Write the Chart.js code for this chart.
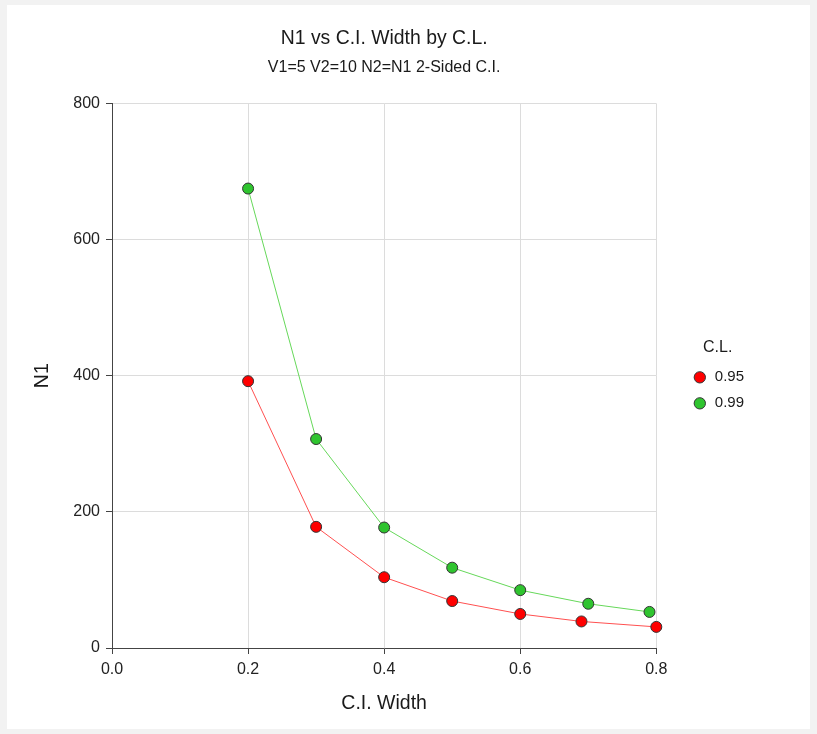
<!DOCTYPE html>
<html>
<head>
<meta charset="utf-8">
<script src="https://cdn.jsdelivr.net/npm/chart.js@4"></script>
<style>
  html, body { margin: 0; padding: 0; background: #f2f2f2; }
  #panel { position: absolute; left: 7px; top: 5px; width: 803px; height: 724px; background: #fff; }
</style>
</head>
<body>
<div id="panel"><canvas id="chart" width="803" height="724"></canvas></div>
<script>
// values
const clLabels = ["0.95", "0.99"];
const widths95 = [0.2, 0.3, 0.4, 0.5, 0.6, 0.69, 0.8];
const n95 = [392, 178, 104, 69, 50, 39, 31];
const widths99 = [0.2, 0.3, 0.4, 0.5, 0.6, 0.7, 0.79];
const n99 = [675, 307, 177, 118, 85, 65, 53];
const xTicks = [0, 0.2, 0.4, 0.6, 0.8];
const yTicks = [0, 200, 400, 600, 800];

const FONT = "'Liberation Sans', Arial, sans-serif";

function toPoints(xs, ys) {
  return xs.map((x, i) => ({ x: x, y: ys[i] }));
}

const ctx = document.getElementById("chart");

new Chart(ctx, {
  type: "scatter",
  data: {
    datasets: [
      {
        label: clLabels[0],
        data: toPoints(widths95, n95),
        showLine: true,
        clip: false,
        borderColor: "#ff5050",
        backgroundColor: "#ff0000",
        borderWidth: 1,
        pointRadius: 5.5,
        pointHoverRadius: 5.5,
        pointBackgroundColor: "#ff0000",
        pointBorderColor: "#333",
        pointBorderWidth: 1,
      },
      {
        label: clLabels[1],
        data: toPoints(widths99, n99),
        showLine: true,
        clip: false,
        borderColor: "#66d85a",
        backgroundColor: "#2fc42f",
        borderWidth: 1,
        pointRadius: 5.5,
        pointHoverRadius: 5.5,
        pointBackgroundColor: "#2fc42f",
        pointBorderColor: "#333",
        pointBorderWidth: 1,
      },
    ],
  },
  options: {
    responsive: false,
    animation: false,
    layout: { padding: { left: 20, right: 56, top: 10, bottom: 10 } },
    plugins: {
      tooltip: { enabled: false },
      title: {
        display: true,
        text: "N1 vs C.I. Width by C.L.",
        fullSize: false,
        color: "#1a1a1a",
        font: { family: FONT, size: 19.4, weight: "normal" },
        padding: { top: 12, bottom: 0 },
      },
      subtitle: {
        display: true,
        text: "V1=5 V2=10 N2=N1 2-Sided C.I.",
        fullSize: false,
        color: "#1a1a1a",
        font: { family: FONT, size: 16, weight: "normal" },
        padding: { top: 8, bottom: 26 },
      },
      legend: {
        position: "right",
        fullSize: false,
        title: {
          display: true,
          text: "C.L.",
          color: "#1a1a1a",
          font: { family: FONT, size: 16 },
          padding: { top: 10, bottom: 0 },
        },
        labels: {
          usePointStyle: true,
          pointStyle: "circle",
          boxWidth: 15,
          boxHeight: 8,
          padding: 11,
          color: "#1a1a1a",
          font: { family: FONT, size: 15 },
          generateLabels: (chart) =>
            Chart.defaults.plugins.legend.labels.generateLabels(chart).map((l) => {
              l.strokeStyle = "#333";
              l.lineWidth = 1;
              return l;
            }),
        },
      },
    },
    scales: {
      x: {
        type: "linear",
        min: 0,
        max: 0.8,
        afterBuildTicks: (s) => { s.ticks = xTicks.map((v) => ({ value: v })); },
        afterFit: (s) => { s.height = 71; },
        ticks: {
          color: "#222",
          padding: 6,
          font: { family: FONT, size: 16 },
          callback: (v) => v.toFixed(1),
        },
        grid: { color: "#dcdcdc", tickColor: "#444", tickLength: 6 },
        border: { color: "#444", width: 1 },
        title: {
          display: true,
          text: "C.I. Width",
          color: "#1a1a1a",
          font: { family: FONT, size: 19.5 },
        },
      },
      y: {
        type: "linear",
        min: 0,
        max: 800,
        afterBuildTicks: (s) => { s.ticks = yTicks.map((v) => ({ value: v })); },
        afterFit: (s) => { s.width = 85; },
        ticks: {
          color: "#222",
          padding: 6,
          font: { family: FONT, size: 16 },
        },
        grid: { color: "#dcdcdc", tickColor: "#444", tickLength: 6 },
        border: { color: "#444", width: 1 },
        title: {
          display: true,
          text: "N1",
          color: "#1a1a1a",
          font: { family: FONT, size: 19.5 },
        },
      },
      // empty spacer between plot and legend
      gap: {
        type: "linear",
        position: "right",
        display: true,
        afterFit: (s) => { s.width = 25; },
        ticks: { display: false },
        grid: { display: false },
        border: { display: false },
      },
    },
  },
});
</script>
</body>
</html>
